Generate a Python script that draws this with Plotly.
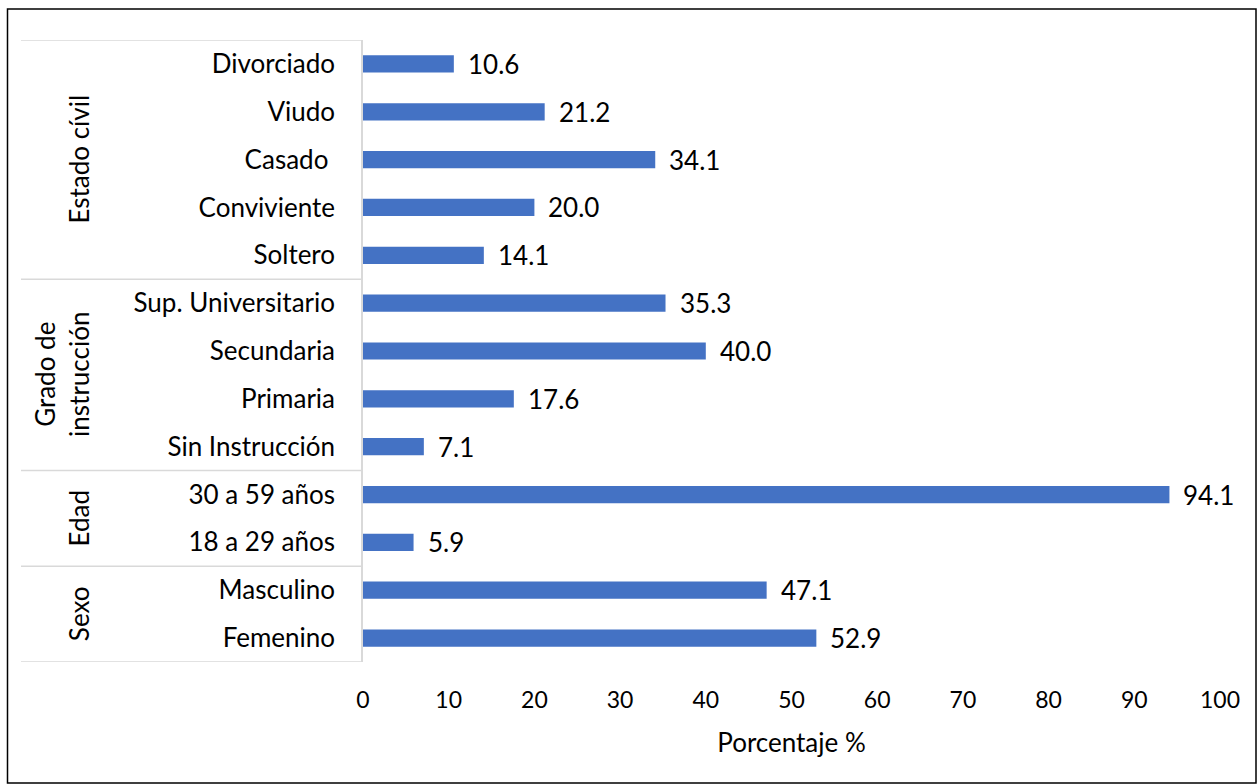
import plotly.graph_objects as go

categories = ["Femenino", "Masculino", "18 a 29 años", "30 a 59 años",
              "Sin Instrucción", "Primaria", "Secundaria", "Sup. Universitario",
              "Soltero", "Conviviente", "Casado ", "Viudo", "Divorciado"]
values = [52.9, 47.1, 5.9, 94.1, 7.1, 17.6, 40.0, 35.3, 14.1, 20.0, 34.1, 21.2, 10.6]
groups = ["Sexo", "Edad", "Grado de<br>instrucción", "Estado cívil"]
group_first = [0, 2, 4, 8]
group_last = [1, 3, 7, 12]
x_ticks = [0, 10, 20, 30, 40, 50, 60, 70, 80, 90, 100]

FONT = "Lato"
W, H = 1257, 784
L, R, T, B = 363, 37, 40, 122
pw = W - L - R
ph = H - T - B

def px_to_paper_x(px):
    return (px - L) / pw

def px_to_paper_y(py):
    return (H - B - py) / ph

fig = go.Figure()
fig.add_trace(go.Bar(
    y=list(range(len(categories))), x=values, orientation="h",
    marker=dict(color="#4472C4", line=dict(width=0)),
    width=0.36, hoverinfo="x+y"))

annotations = []
for i, v in enumerate(values):
    annotations.append(dict(x=v, y=i, xref="x", yref="y", text=f"{v:.1f}",
                            showarrow=False, xanchor="left", xshift=12,
                            font=dict(family=FONT, size=26, color="#000")))
shapes = []
for g, a, b in zip(groups, group_first, group_last):
    annotations.append(dict(x=px_to_paper_x(79 if "<br>" not in g else 62), y=(a + b) / 2,
                            xref="paper", yref="y", text=g, textangle=-90,
                            showarrow=False, xanchor="center", yanchor="middle",
                            font=dict(family=FONT, size=26, color="#000")))
bounds = [-0.5] + [b + 0.5 for b in group_last]
for yb in bounds:
    shapes.append(dict(type="line", xref="paper", yref="y", x0=px_to_paper_x(21), x1=0,
                       y0=yb, y1=yb, line=dict(color="#D9D9D9", width=1.5)))
# outer border
shapes.append(dict(type="rect", xref="paper", yref="paper",
                   x0=px_to_paper_x(7.5), x1=px_to_paper_x(1256),
                   y0=px_to_paper_y(783), y1=px_to_paper_y(9),
                   line=dict(color="#000", width=1.5)))

fig.update_layout(
    width=W, height=H, margin=dict(l=L, r=R, t=T, b=B),
    paper_bgcolor="white", plot_bgcolor="white", showlegend=False,
    font=dict(family=FONT, size=23, color="#000"),
    annotations=annotations, shapes=shapes,
    xaxis=dict(range=[0, 100], tickvals=x_ticks, showgrid=False, zeroline=False,
               showline=False, ticks="", ticklabelstandoff=22,
               tickfont=dict(family=FONT, size=23, color="#000"),
               title=dict(text="Porcentaje %", standoff=21,
                          font=dict(family=FONT, size=26, color="#000"))),
    yaxis=dict(range=[-0.5, 12.5], tickvals=list(range(len(categories))),
               ticktext=categories, showgrid=False, zeroline=False,
               showline=True, linecolor="#D9D9D9", linewidth=1.5, ticks="",
               ticklabelstandoff=21,
               tickfont=dict(family=FONT, size=26, color="#000")),
)
fig.write_html("out.html")
